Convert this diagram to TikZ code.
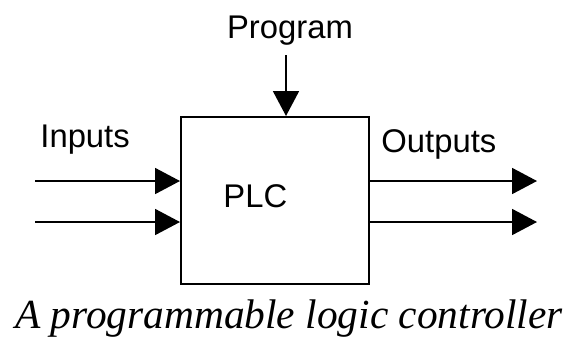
\documentclass[tikz,border=0pt]{standalone}
\usepackage{fontspec}
\setmainfont{Liberation Serif}
\setsansfont{Liberation Sans}
\usetikzlibrary{arrows.meta}

\begin{document}
\begin{tikzpicture}[x=0.5pt, y=-0.5pt,
    every node/.style = {inner sep=0pt, font=\sffamily\fontsize{16.4}{19}\selectfont},
    flow/.style = {line width=0.9pt, -{Triangle[length=12.5pt, width=13pt]}}]
  \useasboundingbox (0,0) rectangle (571,339);
  % the controller
  \node[draw, line width=1pt, minimum width=94pt, minimum height=83.5pt] (plc) at (275,200.5) {};
  \node[anchor=base west] (plctext) at (223,207) {PLC};
  % labels
  \node[anchor=base] (program) at (290,38) {Program};
  \node[anchor=base west] (inputs) at (40,147) {Inputs};
  \node[anchor=base west] (outputs) at (381,152) {Outputs};
  \node[anchor=base, font=\itshape\fontsize{20.7}{24}\selectfont] (caption) at (289,328)
    {A programmable logic controller};
  % connectors
  \coordinate (progstart) at (286,55);
  \coordinate (in1) at (35,181);
  \coordinate (in2) at (35,222);
  \coordinate (out1) at (537,181);
  \coordinate (out2) at (537,222);
  \draw[flow] (progstart) -- (progstart |- plc.north);
  \draw[flow] (in1) -- (in1 -| plc.west);
  \draw[flow] (in2) -- (in2 -| plc.west);
  \draw[flow] (out1 -| plc.east) -- (out1);
  \draw[flow] (out2 -| plc.east) -- (out2);
\end{tikzpicture}
\end{document}
